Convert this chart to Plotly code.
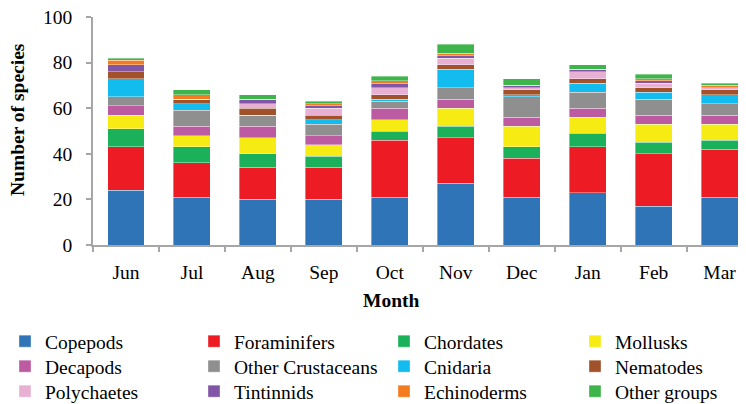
import plotly.graph_objects as go

months = ["Jun", "Jul", "Aug", "Sep", "Oct", "Nov", "Dec", "Jan", "Feb", "Mar"]

copepods      = [24, 21, 20, 20, 21, 27, 21, 23, 17, 21]
foraminifers  = [19, 15, 14, 14, 25, 20, 17, 20, 23, 21]
chordates     = [8, 7, 6, 5, 4, 5, 5, 6, 5, 4]
mollusks      = [6, 5, 7, 5, 5, 8, 9, 7, 8, 7]
decapods      = [4, 4, 5, 4, 5, 4, 4, 4, 4, 4]
other_crust   = [4, 7, 5, 5, 3, 5, 9, 7, 7, 5]
cnidaria      = [8, 3, 0, 2, 1, 8, 1, 4, 3, 4]
nematodes     = [3, 2, 3, 2, 2, 2, 2, 2, 2, 2]
polychaetes   = [0, 0, 2, 3, 3, 3, 1, 3, 2, 1]
tintinnids    = [3, 0, 2, 1, 2, 1, 1, 1, 1, 0]
echinoderms   = [2, 2, 0, 1, 1, 1, 0, 0, 1, 1]
other_groups  = [1, 2, 2, 1, 2, 4, 3, 2, 2, 1]

series = [
    ("Copepods", copepods, "#2F74B7"),
    ("Foraminifers", foraminifers, "#ED1C24"),
    ("Chordates", chordates, "#1BB15B"),
    ("Mollusks", mollusks, "#F6EC14"),
    ("Decapods", decapods, "#BC5BA2"),
    ("Other Crustaceans", other_crust, "#8F8F8F"),
    ("Cnidaria", cnidaria, "#13BCEE"),
    ("Nematodes", nematodes, "#A1522A"),
    ("Polychaetes", polychaetes, "#E8B0D2"),
    ("Tintinnids", tintinnids, "#8156A6"),
    ("Echinoderms", echinoderms, "#F47C20"),
    ("Other groups", other_groups, "#3DB54A"),
]

FONT = "Liberation Serif"
FS = 19.5
OFF = 8  # page body margin
W, H = 746 - OFF, 404 - OFF
ML, MR, MT = 93 - OFF, 0, 17 - OFF
MB = H - (245 - OFF)
pw = W - ML - MR
ph = H - MT - MB

def px_x(page_x):
    return (page_x - OFF - ML) / pw

def px_y(page_y):
    return (H - MB - (page_y - OFF)) / ph

col_x = [5, 194, 384, 575]
row_top = [322, 347, 372]

fig = go.Figure()
legends = {}
for i, (name, vals, col) in enumerate(series):
    lid = "legend" if i == 0 else "legend%d" % (i + 1)
    fig.add_trace(go.Bar(
        x=months, y=vals, name=name, legend=lid,
        marker=dict(color=col, line=dict(color="rgba(255,255,255,0.45)", width=0.8)),
    ))
    legends[lid] = dict(
        orientation="v", xanchor="left", yanchor="top",
        x=px_x(col_x[i % 4]), y=px_y(row_top[i // 4]),
        font=dict(family=FONT, size=FS),
        itemwidth=30, bgcolor="rgba(0,0,0,0)",
    )

fig.update_layout(
    width=W, height=H,
    barmode="stack",
    bargap=0.44,
    plot_bgcolor="white", paper_bgcolor="white",
    margin=dict(l=ML, r=MR, t=MT, b=MB, pad=0, autoexpand=False),
    font=dict(family=FONT, size=FS, color="black"),
    showlegend=True,
    xaxis=dict(
        range=[-0.5, -0.5 + pw / 65.96],
        showline=True, linecolor="#A6A6A6", linewidth=1.5,
        ticks="outside", tickson="boundaries", ticklen=5, tickcolor="#A6A6A6", tickwidth=1.5,
        tickfont=dict(family=FONT, size=FS),
        showgrid=False, zeroline=False,
        ticklabelstandoff=9, ticklabeloverflow="allow",
    ),
    yaxis=dict(
        range=[0, 100], dtick=20,
        showline=True, linecolor="#A6A6A6", linewidth=1.5,
        ticks="outside", ticklen=5, tickcolor="#A6A6A6", tickwidth=1.5,
        tickfont=dict(family=FONT, size=FS),
        showgrid=False, zeroline=False,
        ticklabelstandoff=10, ticklabeloverflow="allow",
    ),
    annotations=[
        dict(text="<b>Month</b>", xref="paper", yref="paper",
             x=px_x(391), y=px_y(300),
             xanchor="center", yanchor="middle", showarrow=False,
             font=dict(family=FONT, size=FS)),
        dict(text="<b>Number of species</b>", xref="paper", yref="paper",
             x=px_x(18), y=px_y(120),
             xanchor="center", yanchor="middle", showarrow=False, textangle=-90,
             font=dict(family=FONT, size=FS)),
    ],
    **legends,
)

fig.write_html("out.html")
